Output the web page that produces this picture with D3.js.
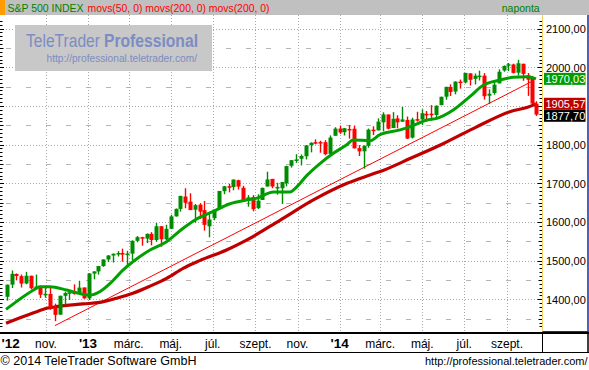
<!DOCTYPE html>
<html><head><meta charset="utf-8">
<script src="https://cdn.jsdelivr.net/npm/d3@7"></script>
<style>body{margin:0;background:#fff}svg{display:block}text{font-family:"Liberation Sans",Arial,sans-serif}</style>
</head><body><svg id="c" width="589" height="370"></svg>
<script>
// ---------------- DATA ----------------
const firstMonday = "2012-09-03";
const lastDay = "2014-10-13";
const wkOpen = [1406.5,1437.9,1465.4,1459.8,1440.9,1460.9,1428.8,1433.7,1410.9,1414.0,
1380.0,1360.3,1409.0,1416.3,1418.1,1413.5,1430.6,1402.4,1466.5,1472.1,
1486.0,1503.0,1513.2,1517.9,1519.8,1515.6,1518.2,1551.2,1560.7,1556.9,
1569.2,1553.3,1588.9,1555.3,1582.3,1614.4,1633.7,1665.7,1652.6,1631.7,
1644.7,1630.6,1588.8,1609.8,1634.2,1679.6,1692.4,1690.3,1708.0,1688.4,
1655.3,1664.3,1635.9,1656.9,1691.7,1711.4,1687.3,1687.2,1699.9,1745.2,
1759.4,1763.4,1770.0,1798.8,1806.3,1806.6,1806.2,1776.0,1822.9,1841.5,
1832.3,1840.5,1841.1,1791.0,1782.7,1797.0,1838.7,1836.8,1857.7,1877.9,
1842.8,1867.7,1859.2,1863.9,1818.2,1865.8,1865.0,1879.5,1880.0,1876.7,
1902.0,1923.9,1949.0,1937.2,1962.9,1960.8,1984.2,1969.9,1976.9,1978.3,
1926.6,1933.4,1958.4,1991.7,2004.1,2007.2,1986.0,2009.1,1979.0,1970.0,
1905.7];
const wkHigh = [1437.9,1474.5,1467.0,1464.0,1471.0,1461.0,1464.0,1435.0,1434.3,1433.4,
1388.8,1409.2,1419.7,1423.7,1438.6,1448.0,1430.6,1467.9,1472.3,1486.0,
1503.3,1514.4,1518.3,1524.7,1530.9,1525.3,1552.5,1563.6,1561.6,1570.3,
1573.7,1597.4,1588.9,1592.6,1618.5,1635.0,1667.5,1687.2,1674.2,1646.5,
1648.7,1654.2,1620.1,1632.1,1680.2,1693.1,1698.8,1709.7,1709.2,1693.5,
1669.5,1669.5,1671.7,1689.0,1729.9,1711.4,1701.3,1703.4,1745.3,1759.8,
1775.2,1774.5,1798.2,1806.0,1813.6,1810.0,1811.5,1823.8,1844.9,1849.4,
1843.2,1850.8,1849.3,1798.8,1798.0,1841.7,1847.5,1867.9,1883.6,1877.9,
1884.0,1875.9,1897.3,1872.6,1869.6,1884.9,1891.3,1886.8,1902.2,1901.3,
1924.2,1949.4,1955.6,1963.9,1968.2,1985.6,1984.9,1983.9,1991.4,1984.9,
1942.9,1964.0,1994.8,2005.0,2011.2,2009.2,2019.3,2009.1,1985.2,1977.4,
1912.1];
const wkLow = [1396.6,1429.1,1449.0,1430.5,1439.0,1425.5,1425.0,1403.3,1403.9,1373.0,
1343.4,1360.0,1385.4,1398.1,1411.9,1413.3,1401.6,1398.1,1451.6,1463.8,
1484.0,1496.3,1495.0,1510.7,1497.3,1485.0,1501.5,1547.4,1538.6,1545.1,
1539.5,1548.6,1536.0,1553.3,1581.3,1614.0,1626.7,1635.5,1630.7,1598.2,
1608.1,1577.7,1560.3,1604.6,1634.2,1671.8,1676.5,1681.9,1683.7,1654.2,
1639.4,1627.5,1633.4,1656.9,1691.7,1687.1,1670.4,1646.5,1692.1,1740.5,
1752.7,1746.2,1761.6,1780.0,1800.6,1779.1,1772.3,1768.0,1822.9,1827.7,
1823.7,1815.5,1790.3,1770.5,1737.9,1791.8,1824.6,1836.8,1834.4,1839.6,
1842.8,1842.1,1859.2,1814.4,1815.8,1859.7,1850.6,1859.8,1862.4,1868.1,
1902.0,1916.0,1925.8,1930.0,1944.7,1958.2,1952.9,1955.6,1965.8,1916.4,
1904.8,1928.9,1958.4,1988.4,1990.1,1983.8,1978.5,1965.0,1926.0,1905.0,
1874.1];
const wkClose = [1437.9,1465.8,1460.2,1440.7,1460.9,1428.6,1433.2,1411.9,1414.2,1379.9,
1359.9,1409.2,1416.2,1418.1,1413.6,1430.2,1402.4,1466.5,1472.1,1486.0,
1503.0,1513.2,1517.9,1519.8,1515.6,1518.2,1551.2,1560.7,1556.9,1569.2,
1553.3,1588.9,1555.3,1582.2,1614.4,1633.7,1667.5,1649.6,1630.7,1643.4,
1626.7,1592.4,1606.3,1631.9,1680.2,1692.1,1691.7,1709.7,1691.4,1655.8,
1663.5,1633.0,1655.2,1688.0,1709.9,1691.8,1690.5,1703.2,1744.5,1759.8,
1761.6,1770.6,1798.2,1804.8,1805.8,1805.1,1775.3,1818.3,1841.4,1831.4,
1842.4,1838.7,1790.3,1782.6,1797.0,1838.6,1836.3,1859.5,1878.0,1841.1,
1866.5,1857.6,1865.1,1815.7,1864.9,1863.4,1881.1,1878.5,1877.9,1900.5,
1923.6,1949.4,1936.2,1962.9,1961.0,1985.4,1967.6,1978.2,1978.3,1925.2,
1931.6,1955.1,1988.4,2003.4,2007.7,1985.5,2010.4,1982.9,1967.9,1906.1,
1877.7];

const ma50Dates = ["2012-09-04","2012-09-19","2012-10-14","2012-10-23","2012-11-07","2012-12-01","2012-12-25","2013-01-04","2013-01-18","2013-02-02","2013-02-21","2013-03-07","2013-04-01","2013-04-25","2013-05-19","2013-06-07","2013-07-01","2013-07-25","2013-08-19","2013-09-02","2013-09-27","2013-10-21","2013-10-31","2013-11-15","2013-12-04","2013-12-23","2014-01-11","2014-01-21","2014-02-14","2014-02-28","2014-03-30","2014-04-13","2014-05-08","2014-05-22","2014-06-15","2014-07-09","2014-07-29","2014-08-22","2014-09-10","2014-09-30","2014-10-13"];
const ma50Vals = [1374,1394,1424,1432.6,1432.6,1424,1413,1411,1419.6,1441,1476,1497,1527.5,1549,1583.6,1607,1626.5,1646.4,1656.8,1661,1677.5,1677.5,1691,1721,1751.7,1777.5,1799,1812,1810,1825,1838,1846,1863.7,1868,1889.5,1924,1954,1967,1974,1975.6,1970.03];

const ma200Dates = ["2012-09-04","2012-10-14","2012-11-02","2012-11-16","2012-12-25","2013-01-18","2013-02-11","2013-03-07","2013-04-01","2013-04-25","2013-05-19","2013-06-12","2013-07-21","2013-08-19","2013-10-07","2013-11-24","2014-01-12","2014-02-15","2014-03-06","2014-04-14","2014-06-01","2014-07-19","2014-09-05","2014-10-09","2014-10-13"];
const ma200Vals = [1338,1365,1376.7,1381,1388,1392,1402.6,1415.5,1434,1454,1480,1500,1527.5,1553,1605,1657,1700,1722,1734,1764.6,1803,1846,1885,1902,1905.57];

const trendDates = ["2012-11-14","2014-10-10"];
const trendVals = [1332,1966];

const tickDates = ["2012-09-03","2012-11-01","2013-01-01","2013-03-01","2013-05-01","2013-07-01","2013-09-01","2013-11-01","2014-01-01","2014-03-01","2014-05-01","2014-07-01","2014-09-01"];
const tickLabels = ["'12","nov.","'13","márc.","máj.","júl.","szept.","nov.","'14","márc.","máj.","júl.","szept."];

const yTicks = [1400,1500,1600,1700,1800,1900,2000,2100];
const yTickLabels = ["1400,00","1500,00","1600,00","1700,00","1800,00","1900,00","2000,00","2100,00"];
const yHalfTicks = [1350,1450,1550,1650,1750,1850,1950,2050];

const boxValues = [1970.03,1905.57,1877.70];
const boxLabels = ["1970,03","1905,57","1877,70"];
const boxColors = ["#009c00","#c00000","#000000"];

const titleText = "S&P 500 INDEX";
const studyText = "movs(50, 0) movs(200, 0) movs(200, 0)";
const periodText = "naponta";

// ---------------- DRAW ----------------
const P = d3.timeParse("%Y-%m-%d");
const svg = d3.select("#c");
const x = d3.scaleTime().domain([P("2012-11-01"), P("2014-09-01")]).range([46, 507]);
const y = d3.scaleLinear().domain([1400, 2100]).range([299.3, 28.6]);

const plotL = 0, plotR = 542, plotT = 15, plotB = 332;

svg.append("rect").attr("width",589).attr("height",370).attr("fill","#fff");

svg.append("defs").append("clipPath").attr("id","pc").append("rect")
  .attr("x",plotL).attr("y",plotT).attr("width",plotR-plotL).attr("height",plotB-plotT);

const grid = svg.append("g");
grid.selectAll("line.h").data(yTicks).join("line")
  .attr("x1",plotL).attr("x2",plotR-3).attr("y1",d=>Math.round(y(d))+0.5).attr("y2",d=>Math.round(y(d))+0.5)
  .attr("stroke","#a8a8a8").attr("stroke-dasharray","1,2");
grid.selectAll("line.hh").data(yHalfTicks).join("line")
  .attr("x1",plotL+6).attr("x2",plotR-3).attr("y1",d=>Math.round(y(d))+0.5).attr("y2",d=>Math.round(y(d))+0.5)
  .attr("stroke","#b4b4b4").attr("stroke-dasharray","5,15");
const tickData = tickDates.map((d,i)=>({date:P(d),label:tickLabels[i]}));
grid.selectAll("line.v").data(tickData.slice(1)).join("line")
  .attr("x1",d=>Math.round(x(d.date))+0.5).attr("x2",d=>Math.round(x(d.date))+0.5)
  .attr("y1",plotT).attr("y2",plotB)
  .attr("stroke","#a8a8a8").attr("stroke-dasharray","1,2");

// logo box
svg.append("rect").attr("x",15).attr("y",25).attr("width",197).attr("height",46).attr("fill","#c8c8c8");
svg.append("text").attr("x",26).attr("y",46.5).attr("font-size",18).attr("fill","#7d8cc2")
  .attr("textLength",74).attr("lengthAdjust","spacingAndGlyphs").text("TeleTrader");
svg.append("text").attr("x",104).attr("y",46.5).attr("font-size",18).attr("font-weight","bold").attr("fill","#7d8cc2")
  .attr("textLength",94).attr("lengthAdjust","spacingAndGlyphs").text("Professional");
svg.append("text").attr("x",46.5).attr("y",61.5).attr("font-size",11).attr("fill","#7d8cc2")
  .attr("textLength",150.5).attr("lengthAdjust","spacingAndGlyphs").text("http://professional.teletrader.com/");

// minor ticks left and right
const minorVals = d3.range(1330, 2121, 10);
const ticksG = svg.append("g");
ticksG.selectAll("line.lt").data(minorVals).join("line")
  .attr("x1",0).attr("x2",d=>d%100===0?4:(d%50===0?3.5:2.5))
  .attr("y1",d=>Math.round(y(d))+0.5).attr("y2",d=>Math.round(y(d))+0.5)
  .attr("stroke","#000");
ticksG.selectAll("line.rt").data(minorVals).join("line")
  .attr("x1",d=>plotR-(d%100===0?4.5:(d%50===0?3.5:2.5))).attr("x2",plotR)
  .attr("y1",d=>Math.round(y(d))+0.5).attr("y2",d=>Math.round(y(d))+0.5)
  .attr("stroke","#000");

const plot = svg.append("g").attr("clip-path","url(#pc)");

// trend line
plot.append("path").datum(trendDates.map((d,i)=>[P(d),trendVals[i]]))
  .attr("d", d3.line().x(d=>x(d[0])).y(d=>y(d[1])))
  .attr("fill","none").attr("stroke","#ff0000").attr("stroke-width",1);

// MA200
plot.append("path").datum(ma200Dates.map((d,i)=>[P(d),ma200Vals[i]]))
  .attr("d", d3.line().curve(d3.curveMonotoneX).x(d=>x(d[0])).y(d=>y(d[1])))
  .attr("fill","none").attr("stroke","#c00000").attr("stroke-width",3.2);

// weekly candles
const mondays = d3.timeMonday.range(P(firstMonday), d3.timeDay.offset(P(lastDay),1));
const endD = P(lastDay);
const bars = mondays.map((m,i)=>{
  let c = d3.timeDay.offset(m,2); if (c > endD) c = endD;
  return {date:c, o:wkOpen[i], h:wkHigh[i], l:wkLow[i], c:wkClose[i]};
}).filter(d=>d.o!==undefined);
const upC = "#008c00", dnC = "#ff0000";
const bw = 4;
plot.selectAll("line.wick").data(bars).join("line")
  .attr("x1",d=>Math.round(x(d.date))+0.5).attr("x2",d=>Math.round(x(d.date))+0.5)
  .attr("y1",d=>y(d.h)).attr("y2",d=>y(d.l))
  .attr("stroke",d=>d.c>=d.o?upC:dnC).attr("stroke-width",1.4);
plot.selectAll("rect.body").data(bars).join("rect")
  .attr("x",d=>Math.round(x(d.date))-1.5).attr("width",bw)
  .attr("y",d=>y(Math.max(d.o,d.c))).attr("height",d=>Math.max(1.5,Math.abs(y(d.o)-y(d.c))))
  .attr("fill",d=>d.c>=d.o?upC:dnC);

// MA50
plot.append("path").datum(ma50Dates.map((d,i)=>[P(d),ma50Vals[i]]))
  .attr("d", d3.line().curve(d3.curveMonotoneX).x(d=>x(d[0])).y(d=>y(d[1])))
  .attr("fill","none").attr("stroke","#00a000").attr("stroke-width",3);

// header
svg.append("rect").attr("x",0).attr("y",0).attr("width",589).attr("height",15).attr("fill","#c0c0c0");
svg.append("rect").attr("x",0).attr("y",0).attr("width",5).attr("height",15).attr("fill","#ff9c00");
svg.append("text").attr("x",7.5).attr("y",12).attr("font-size",11).attr("fill","#008000")
  .attr("textLength",76).attr("lengthAdjust","spacingAndGlyphs").text(titleText);
svg.append("text").attr("x",87.5).attr("y",12).attr("font-size",11).attr("fill","#ff0000")
  .attr("textLength",182).attr("lengthAdjust","spacingAndGlyphs").text(studyText);
svg.append("text").attr("x",501.7).attr("y",12).attr("font-size",11).attr("fill","#008000")
  .attr("textLength",38).attr("lengthAdjust","spacingAndGlyphs").text(periodText);

// right axis panel borders
svg.append("line").attr("x1",542.5).attr("x2",542.5).attr("y1",15).attr("y2",332).attr("stroke","#f0d060");
svg.append("line").attr("x1",588).attr("x2",588).attr("y1",15).attr("y2",332).attr("stroke","#1030a0").attr("stroke-width",1.5);
svg.append("line").attr("x1",542.5).attr("x2",588.5).attr("y1",331.5).attr("y2",331.5).attr("stroke","#1030a0");

// value boxes, pushed down when they would overlap
const boxH = 12;
const boxes = [];
boxValues.forEach((v,i)=>{
  let top = y(v) - boxH/2;
  boxes.forEach(b=>{ if (top < b.top + boxH && top + boxH > b.top) top = b.top + boxH; });
  boxes.push({top, v, label:boxLabels[i], color:boxColors[i]});
});

// y axis labels (skip those under a value box)
const yl = yTicks.map((v,i)=>({v,label:yTickLabels[i]}))
  .filter(d=>!boxes.some(b=>Math.abs((b.top+boxH/2)-y(d.v))<10));
svg.selectAll("text.yl").data(yl).join("text")
  .attr("x",546).attr("y",d=>y(d.v)+4.3).attr("font-size",11).attr("fill","#000")
  .text(d=>d.label);

const bg = svg.append("g");
bg.selectAll("rect").data(boxes).join("rect")
  .attr("x",544).attr("y",d=>d.top).attr("width",41.5).attr("height",boxH).attr("fill",d=>d.color);
bg.selectAll("text").data(boxes).join("text")
  .attr("x",545.5).attr("y",d=>d.top+boxH/2+4.2).attr("font-size",11).attr("fill","#fff")
  .text(d=>d.label);

// x axis
svg.append("line").attr("x1",0).attr("x2",589).attr("y1",333).attr("y2",333).attr("stroke","#000").attr("stroke-width",2);
svg.append("line").attr("x1",0).attr("x2",589).attr("y1",352.5).attr("y2",352.5).attr("stroke","#000");
svg.append("line").attr("x1",542.5).attr("x2",542.5).attr("y1",333).attr("y2",352.5).attr("stroke","#000");
svg.append("line").attr("x1",588).attr("x2",588).attr("y1",333).attr("y2",352.5).attr("stroke","#000").attr("stroke-width",1.5);

svg.selectAll("text.xl").data(tickData).join("text")
  .each(function(d){
    const t = d3.select(this);
    const yr = d.label.startsWith("'");
    t.attr("y",348).attr("fill","#000")
     .attr("font-size", yr?13.5:12).attr("font-weight", yr?"bold":"normal").text(d.label);
    const xx = x(d.date);
    if (xx < 12) t.attr("x",1.5).attr("text-anchor","start");
    else t.attr("x",xx).attr("text-anchor","middle");
  });

// footer
svg.append("text").attr("x",0.5).attr("y",365).attr("font-size",12.5).attr("fill","#000")
  .attr("textLength",196).attr("lengthAdjust","spacingAndGlyphs").text("© 2014 TeleTrader Software GmbH");
svg.append("text").attr("x",425).attr("y",365).attr("font-size",11).attr("fill","#000")
  .attr("textLength",162.5).attr("lengthAdjust","spacingAndGlyphs").text("http://professional.teletrader.com/");
</script></body></html>
